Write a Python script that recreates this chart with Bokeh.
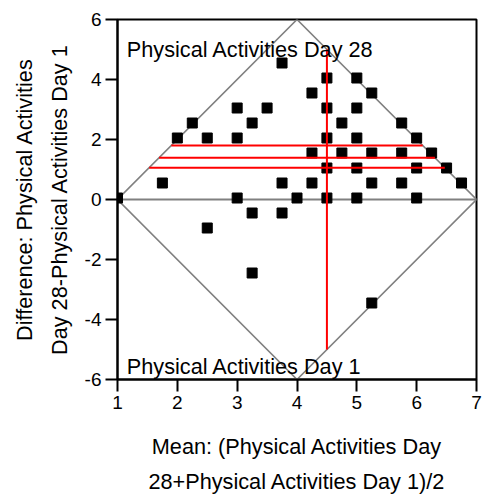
from bokeh.plotting import figure
from bokeh.models import Range1d, FixedTicker, Label
from bokeh.embed import file_html
from bokeh.resources import INLINE

# Bland-Altman data: mean of the two days vs. difference (Day 28 - Day 1)
mean_x = [1.0, 1.75, 2.0, 2.25, 2.5, 2.5, 3.0, 3.0, 3.0, 3.25, 3.25, 3.25,
          3.5, 3.75, 3.75, 3.75, 4.0, 4.25, 4.25, 4.25, 4.5, 4.5, 4.5, 4.5,
          4.5, 4.75, 4.75, 5.0, 5.0, 5.0, 5.0, 5.0, 5.25, 5.25, 5.25, 5.25,
          5.75, 5.75, 5.75, 6.0, 6.0, 6.0, 6.25, 6.5, 6.75]
diff_y = [0.05, 0.55, 2.05, 2.55, 2.05, -0.95, 3.05, 2.05, 0.05, 2.55, -0.45, -2.45,
          3.05, 4.55, 0.55, -0.45, 0.05, 3.55, 1.55, 0.55, 4.05, 3.05, 2.05, 1.05,
          0.05, 2.55, 1.55, 4.05, 3.05, 2.05, 1.05, 0.05, 3.55, 1.55, 0.55, -3.45,
          2.55, 1.55, 0.55, 2.05, 1.05, 0.05, 1.55, 1.05, 0.55]

# scale limits of the questionnaire and summary lines
scale_min, scale_max = 1, 7
mean_of_means = 4.5
diff_lines = [1.80, 1.39, 1.06]

x_ticks = [1, 2, 3, 4, 5, 6, 7]
y_ticks = [-6, -4, -2, 0, 2, 4, 6]

FONT = "Liberation Sans"

span = scale_max - scale_min
mid = (scale_min + scale_max) / 2

p = figure(width=498, height=499,
           x_range=Range1d(scale_min, scale_max), y_range=Range1d(-span, span),
           output_backend="svg", toolbar_location=None,
           min_border_left=117, min_border_right=22,
           min_border_top=19, min_border_bottom=120)

p.grid.visible = False
p.outline_line_color = "black"
p.outline_line_width = 2
p.background_fill_color = "white"
p.border_fill_color = "white"

p.xaxis.ticker = FixedTicker(ticks=x_ticks)
p.yaxis.ticker = FixedTicker(ticks=y_ticks)
p.yaxis.major_label_overrides = {t: str(t) for t in y_ticks}
p.xaxis.axis_label = "Mean: (Physical Activities Day\n28+Physical Activities Day 1)/2"
p.yaxis.axis_label = "Difference: Physical Activities\nDay 28-Physical Activities Day 1"

for ax in (p.xaxis[0], p.yaxis[0]):
    ax.major_tick_out = 12
    ax.major_tick_in = 0
    ax.minor_tick_out = 0
    ax.minor_tick_in = 0
    ax.axis_line_width = 2
    ax.major_tick_line_width = 2
    ax.major_label_text_font = FONT
    ax.major_label_text_font_size = "19px"
    ax.major_label_text_color = "black"
    ax.axis_label_text_font = FONT
    ax.axis_label_text_font_size = "21.7px"
    ax.axis_label_text_font_style = "normal"
    ax.axis_label_text_color = "black"
    ax.axis_label_text_line_height = 1.4
    ax.major_label_standoff = 4
p.xaxis.axis_label_standoff = 22
p.yaxis.axis_label_standoff = 10

# limits of possible differences (diamond) and the zero line
p.line([scale_min, mid, scale_max, mid, scale_min],
       [0, span, 0, -span, 0], line_color="#808080", line_width=1.6)
p.line([scale_min, scale_max], [0, 0], line_color="#808080", line_width=2)

p.scatter(mean_x, diff_y, marker="square", size=10, color="black")

# mean of means: vertical line between the diamond edges
edge = 2 * min(mean_of_means - scale_min, scale_max - mean_of_means)
p.line([mean_of_means, mean_of_means], [-edge, edge], line_color="red", line_width=2)
# mean difference and its limits, between the diamond edges
for d in diff_lines:
    p.line([scale_min + d / 2, scale_max - d / 2], [d, d], line_color="red", line_width=2)

p.add_layout(Label(x=1.155, y=5.0, text="Physical Activities Day 28",
                   text_font=FONT, text_font_size="21.7px", text_baseline="alphabetic",
                   text_color="black"))
p.add_layout(Label(x=1.155, y=-5.56, text="Physical Activities Day 1",
                   text_font=FONT, text_font_size="21.7px", text_baseline="alphabetic",
                   text_color="black"))

open("out.html", "w").write(file_html(p, INLINE))
